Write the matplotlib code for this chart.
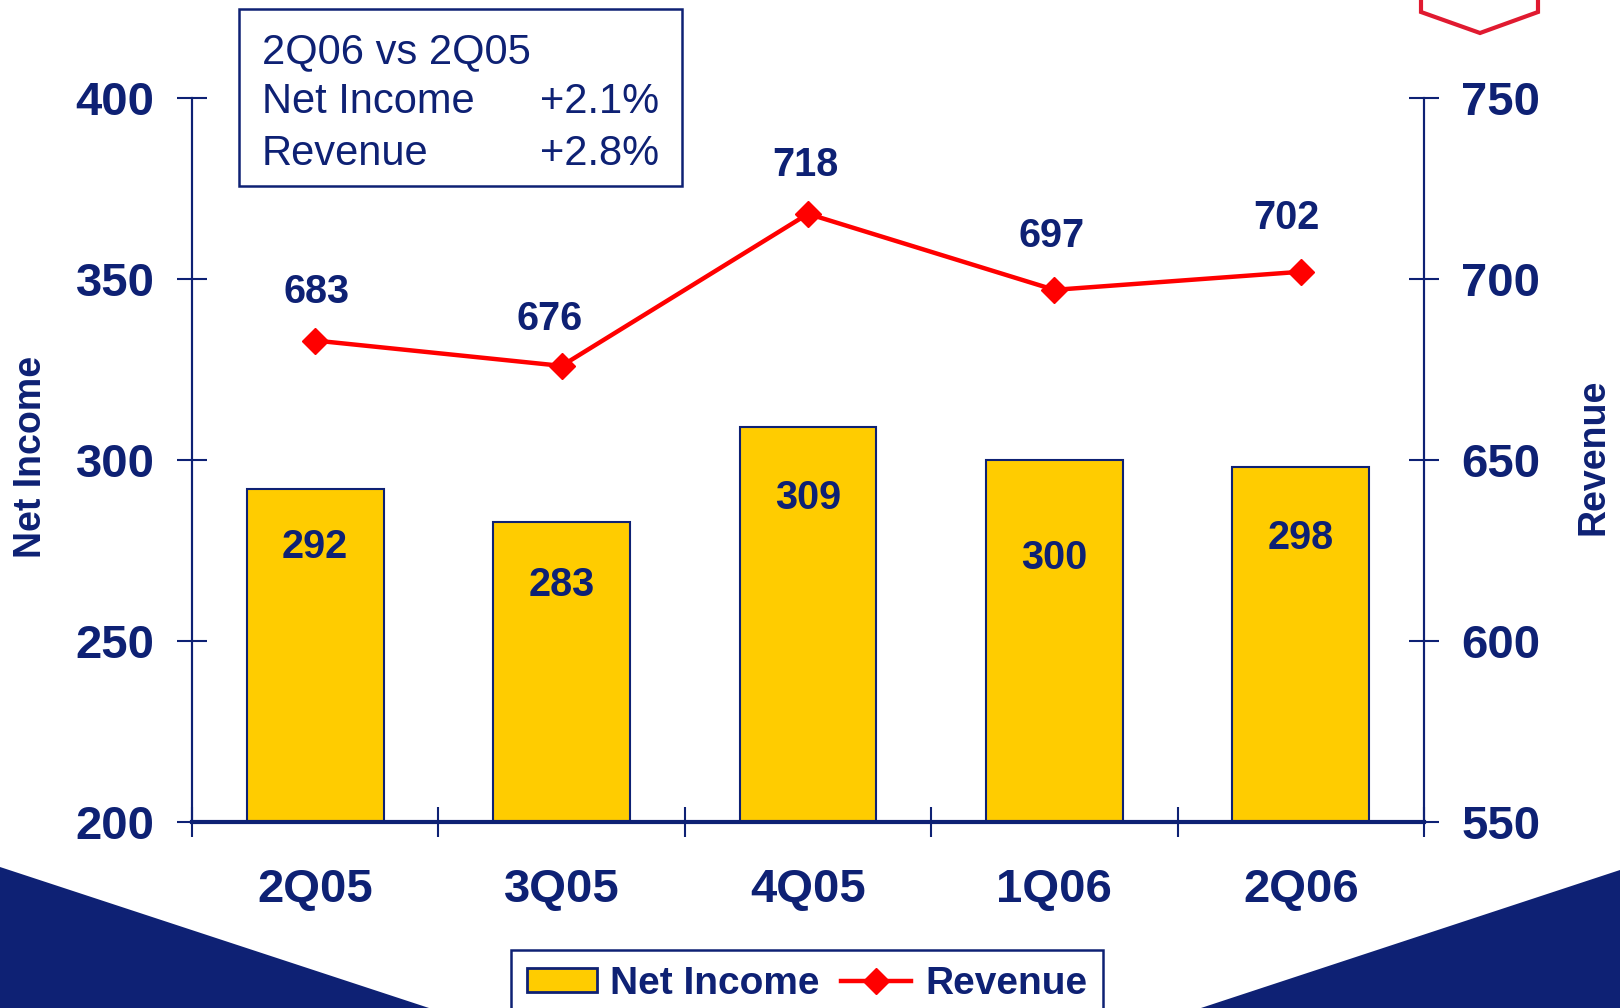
import matplotlib
matplotlib.use('Agg')
import matplotlib.pyplot as plt
from matplotlib.patches import Polygon, Rectangle
from matplotlib.lines import Line2D
from matplotlib.patches import Patch

# Data
quarters = ['2Q05', '3Q05', '4Q05', '1Q06', '2Q06']
net_income = [292, 283, 309, 300, 298]
revenue = [683, 676, 718, 697, 702]
summary_title = '2Q06 vs 2Q05'
summary_rows = [('Net Income', '+2.1%'), ('Revenue', '+2.8%')]

# Label placement (layout only)
BAR_LABEL_Y = [276, 265.5, 289.5, 273, 278.5]
REV_LABEL_DX = [1, -9, -2, -2, -10]
REV_LABEL_DY = [35, 34, 35, 39, 39]

NAVY = '#0e2174'
YELLOW = '#ffcc00'
RED = '#ff0000'
CRIMSON = '#e01a30'

plt.rcParams['font.family'] = ['Liberation Sans', 'DejaVu Sans']

fig = plt.figure(figsize=(16.2, 10.08), dpi=100)
W, H = 1620.0, 1008.0


def fx(px):
    return px / W


def fy(py):
    return 1 - py / H


# Background decoration
fig.add_artist(Polygon([(0, fy(867)), (fx(429), 0), (0, 0)], closed=True,
                       transform=fig.transFigure, facecolor=NAVY, edgecolor='none', zorder=0))
fig.add_artist(Polygon([(1, fy(870)), (1, 0), (fx(1201), 0)], closed=True,
                       transform=fig.transFigure, facecolor=NAVY, edgecolor='none', zorder=0))
fig.add_artist(Polygon([(fx(1421), fy(-40)), (fx(1421), fy(12)), (fx(1480), fy(33)),
                        (fx(1538), fy(12)), (fx(1538), fy(-40))], closed=False,
                       transform=fig.transFigure, facecolor='none', edgecolor=CRIMSON,
                       linewidth=3, zorder=1))

ax = fig.add_axes([fx(192), fy(822), fx(1424) - fx(192), fy(98) - fy(822)])
ax2 = ax.twinx()

x = list(range(len(quarters)))
bars = ax.bar(x, net_income, width=0.555, color=YELLOW, edgecolor=NAVY, linewidth=1.5, zorder=2)
ax.set_xlim(-0.5, len(quarters) - 0.5)
ax.set_ylim(200, 400)
ax.set_yticks([200, 250, 300, 350, 400])
ax2.set_ylim(550, 750)
ax2.set_yticks([550, 600, 650, 700, 750])

for xi, val, ly in zip(x, net_income, BAR_LABEL_Y):
    ax.text(xi, ly, str(val), ha='center', va='center', fontsize=28.5,
            fontweight='bold', color=NAVY, zorder=3)

ax2.plot(x, revenue, color=RED, linewidth=3.2, marker='D', markersize=13, zorder=3)
for xi, val, dx, dy in zip(x, revenue, REV_LABEL_DX, REV_LABEL_DY):
    ax2.annotate(str(val), (xi, val), xytext=(dx, dy), textcoords='offset points',
                 ha='center', va='center', fontsize=28.5, fontweight='bold', color=NAVY)

# Axes styling
for a in (ax, ax2):
    a.spines['top'].set_visible(False)
    for s in ('left', 'right', 'bottom'):
        a.spines[s].set_color(NAVY)
        a.spines[s].set_linewidth(1.5)
ax.spines['bottom'].set_linewidth(3)
ax2.spines['bottom'].set_visible(False)
ax.patch.set_facecolor('white')
ax2.patch.set_visible(False)

ax.set_xticks(x)
ax.set_xticklabels(quarters)
ax.set_xticks([i - 0.5 for i in range(len(quarters) + 1)], minor=True)
ax.tick_params(axis='x', which='major', length=0, pad=33, labelsize=34, labelcolor=NAVY)
ax.tick_params(axis='x', which='minor', direction='inout', length=22, width=1.5, color=NAVY)
ax.tick_params(axis='y', direction='inout', length=22, width=1.5, color=NAVY,
               pad=16, labelsize=34, labelcolor=NAVY)
ax2.tick_params(axis='y', direction='inout', length=22, width=1.5, color=NAVY,
                pad=16, labelsize=34, labelcolor=NAVY)
for lab in ax.get_xticklabels() + ax.get_yticklabels() + ax2.get_yticklabels():
    lab.set_fontweight('bold')

fig.text(fx(31), fy(457), 'Net Income', rotation=90, ha='center', va='center',
         fontsize=27, fontweight='bold', color=NAVY)
fig.text(fx(1593), fy(457), 'Revenue', rotation=90, ha='center', va='center',
         fontsize=27, fontweight='bold', color=NAVY)

# Summary box
fig.add_artist(Rectangle((fx(239), fy(186)), fx(682) - fx(239), fy(9) - fy(186),
                         transform=fig.transFigure, facecolor='white', edgecolor=NAVY,
                         linewidth=1.8, zorder=4))
fig.text(fx(262), fy(63), summary_title, ha='left', va='baseline', fontsize=30,
         color=NAVY, zorder=5)
for (name, pct), base in zip(summary_rows, [113, 165]):
    fig.text(fx(262), fy(base), name, ha='left', va='baseline', fontsize=30, color=NAVY, zorder=5)
    fig.text(fx(659), fy(base), pct, ha='right', va='baseline', fontsize=30, color=NAVY, zorder=5)

# Legend
handles = [Patch(facecolor=YELLOW, edgecolor=NAVY, linewidth=2),
           Line2D([0], [0], color=RED, linewidth=3.2, marker='D', markersize=13)]
leg = fig.legend(handles, ['Net Income', 'Revenue'], loc='upper center',
                 bbox_to_anchor=(fx(807), fy(950)), ncol=2, frameon=True, fancybox=False,
                 fontsize=28, handlelength=1.8, handleheight=0.6, handletextpad=0.35,
                 columnspacing=0.55, borderpad=0.4, borderaxespad=0)
leg.get_frame().set_edgecolor(NAVY)
leg.get_frame().set_linewidth(1.8)
leg.get_frame().set_alpha(1)
for t in leg.get_texts():
    t.set_color(NAVY)
    t.set_fontweight('bold')

fig.savefig('out.png', dpi=100)
